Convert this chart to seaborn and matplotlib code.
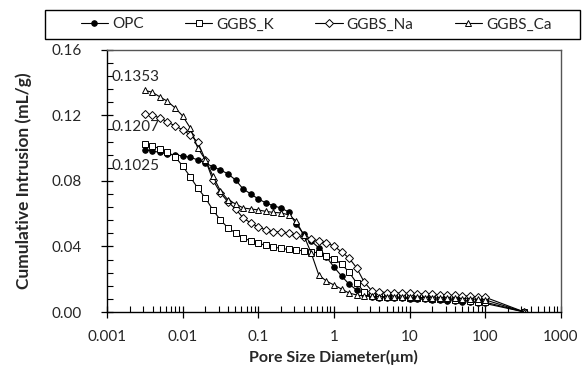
import pandas as pd
import numpy as np
import matplotlib
matplotlib.use("Agg")
import matplotlib.pyplot as plt
from matplotlib.patches import Rectangle
from matplotlib.ticker import FixedLocator, MultipleLocator, FuncFormatter, LogLocator, NullFormatter
import seaborn as sns

# ---------------------------------------------------------
# Data
# ---------------------------------------------------------
pore_size = [0.00316, 0.00398, 0.00501, 0.00631, 0.00794, 0.01, 0.0126, 0.0158,
             0.02, 0.0251, 0.0316, 0.0398, 0.0501, 0.0631, 0.0794, 0.1, 0.126,
             0.158, 0.2, 0.251, 0.316, 0.398, 0.501, 0.631, 0.794, 1.0, 1.26,
             1.58, 2.0, 2.51, 3.16, 3.98, 5.01, 6.31, 7.94, 10.0, 12.6, 15.8,
             20.0, 25.1, 31.6, 39.8, 50.1, 63.1, 79.4, 100.0, 330.0]

opc = [0.0990, 0.0983, 0.0974, 0.0965, 0.0959, 0.0953, 0.0944, 0.0929,
       0.0910, 0.0886, 0.0867, 0.0843, 0.0806, 0.0751, 0.0721, 0.0690, 0.0666,
       0.0648, 0.0635, 0.0611, 0.0538, 0.0476, 0.0434, 0.0391, 0.0336, 0.0275,
       0.0220, 0.0171, 0.0134, 0.0110, 0.0092, 0.0088, 0.0086, 0.0085, 0.0083,
       0.0081, 0.0079, 0.0077, 0.0075, 0.0072, 0.0070, 0.0067, 0.0064, 0.0060,
       0.0056, 0.0052, 0.0]

ggbs_k = [0.1025, 0.1014, 0.0996, 0.0977, 0.0947, 0.0892, 0.0825, 0.0757,
          0.0696, 0.0623, 0.0562, 0.0513, 0.0483, 0.0452, 0.0434, 0.0421, 0.0406,
          0.0397, 0.0388, 0.0382, 0.0379, 0.0373, 0.0367, 0.0360, 0.0342, 0.0324,
          0.0293, 0.0244, 0.0177, 0.0122, 0.0098, 0.0094, 0.0092, 0.0090, 0.0089,
          0.0087, 0.0085, 0.0083, 0.0081, 0.0079, 0.0077, 0.0074, 0.0071, 0.0068,
          0.0064, 0.0060, 0.0]

ggbs_na = [0.1207, 0.1200, 0.1185, 0.1160, 0.1136, 0.1112, 0.1081, 0.1038,
           0.0929, 0.0806, 0.0727, 0.0672, 0.0629, 0.0574, 0.0544, 0.0519, 0.0501,
           0.0489, 0.0489, 0.0483, 0.0470, 0.0458, 0.0446, 0.0434, 0.0421, 0.0403,
           0.0367, 0.0330, 0.0269, 0.0183, 0.0130, 0.0122, 0.0119, 0.0117, 0.0115,
           0.0113, 0.0111, 0.0109, 0.0107, 0.0105, 0.0103, 0.0101, 0.0099, 0.0096,
           0.0093, 0.0090, 0.0]

ggbs_ca = [0.1353, 0.1341, 0.1313, 0.1286, 0.1246, 0.1197, 0.1124, 0.1002,
           0.0929, 0.0831, 0.0739, 0.0684, 0.0660, 0.0635, 0.0629, 0.0623, 0.0614,
           0.0608, 0.0605, 0.0593, 0.0556, 0.0470, 0.0360, 0.0226, 0.0189, 0.0165,
           0.0140, 0.0116, 0.0104, 0.0097, 0.0095, 0.0094, 0.0093, 0.0092, 0.0091,
           0.0090, 0.0089, 0.0088, 0.0087, 0.0086, 0.0085, 0.0084, 0.0082, 0.0080,
           0.0077, 0.0074, 0.0]

series_names = ["OPC", "GGBS_K", "GGBS_Na", "GGBS_Ca"]
series_values = [opc, ggbs_k, ggbs_na, ggbs_ca]

peak_labels = ["0.1353", "0.1207", "0.1025"]
x_tick_values = [0.001, 0.01, 0.1, 1, 10, 100, 1000]
x_tick_labels = ["0.001", "0.01", "0.1", "1", "10", "100", "1000"]

df = pd.DataFrame({
    "pore": pore_size * len(series_names),
    "intrusion": sum(series_values, []),
    "mix": np.repeat(series_names, len(pore_size)),
})

# ---------------------------------------------------------
# Style
# ---------------------------------------------------------
sns.set_theme(style="white")
plt.rcParams["font.family"] = ["Lato", "DejaVu Sans"]

marker_style = {
    "OPC": dict(marker="o", markerfacecolor="black", markersize=4),
    "GGBS_K": dict(marker="s", markerfacecolor="white", markersize=4.2),
    "GGBS_Na": dict(marker="D", markerfacecolor="white", markersize=4),
    "GGBS_Ca": dict(marker="^", markerfacecolor="white", markersize=5),
}

fig = plt.figure(figsize=(5.83, 3.75), dpi=100)
ax = fig.add_axes([0.1835, 0.168, 0.7785, 0.699])

for name in series_names:
    sub = df[df["mix"] == name]
    sns.lineplot(data=sub, x="pore", y="intrusion", ax=ax, color="black",
                 linewidth=0.8, markeredgecolor="black", markeredgewidth=0.7,
                 label=name, **marker_style[name])

ax.set_xscale("log")
ax.set_xlim(0.001, 1000)
ax.set_ylim(0, 0.16)

ax.xaxis.set_major_locator(FixedLocator(x_tick_values))
ax.set_xticklabels(x_tick_labels)
ax.xaxis.set_minor_locator(LogLocator(base=10, subs=np.arange(2, 10)))
ax.xaxis.set_minor_formatter(NullFormatter())
ax.yaxis.set_major_locator(MultipleLocator(0.04))
ax.yaxis.set_minor_locator(MultipleLocator(0.008))
ax.yaxis.set_major_formatter(FuncFormatter(lambda v, p: f"{v:.2f}"))

ax.tick_params(which="major", direction="inout", length=8, width=0.9,
               color="black", labelsize=11, bottom=True, left=True)
ax.tick_params(axis="x", which="major", pad=9)
ax.tick_params(axis="y", which="major", pad=14)
ax.tick_params(axis="x", which="minor", direction="in", length=4, width=0.8,
               color="black", bottom=True)
ax.tick_params(axis="y", which="minor", direction="in", length=4, width=0.8,
               color="black", left=True)

for side in ["left", "bottom"]:
    ax.spines[side].set_color("black")
    ax.spines[side].set_linewidth(1.0)
for side in ["top", "right"]:
    ax.spines[side].set_color("#555555")
    ax.spines[side].set_linewidth(1.0)

ax.set_xlabel("Pore Size Diameter(μm)", fontsize=11.5, fontweight="bold", labelpad=4)
ax.set_ylabel("Cumulative Intrusion (mL/g)", fontsize=12.5, fontweight="bold", labelpad=14)

# peak value labels
for txt, y in zip(peak_labels, [0.1436, 0.1130, 0.0892]):
    ax.text(0.00115, y, txt, fontsize=11, va="center", ha="left")

# legend on top in a box
handles, labels = ax.get_legend_handles_labels()
ax.get_legend().remove()
fig.patches.append(Rectangle((45 / 583, 1 - 39 / 375), 535 / 583, 29 / 375,
                             transform=fig.transFigure, fill=False,
                             edgecolor="black", linewidth=1.0))
fig.legend(handles, labels, loc="center", ncol=4,
           bbox_to_anchor=(316 / 583, 1 - 24.5 / 375), frameon=False,
           fontsize=11, handlelength=1.8, handletextpad=0.25,
           columnspacing=2.7, borderaxespad=0.0, borderpad=0.0)

fig.savefig("out.png", dpi=100)
